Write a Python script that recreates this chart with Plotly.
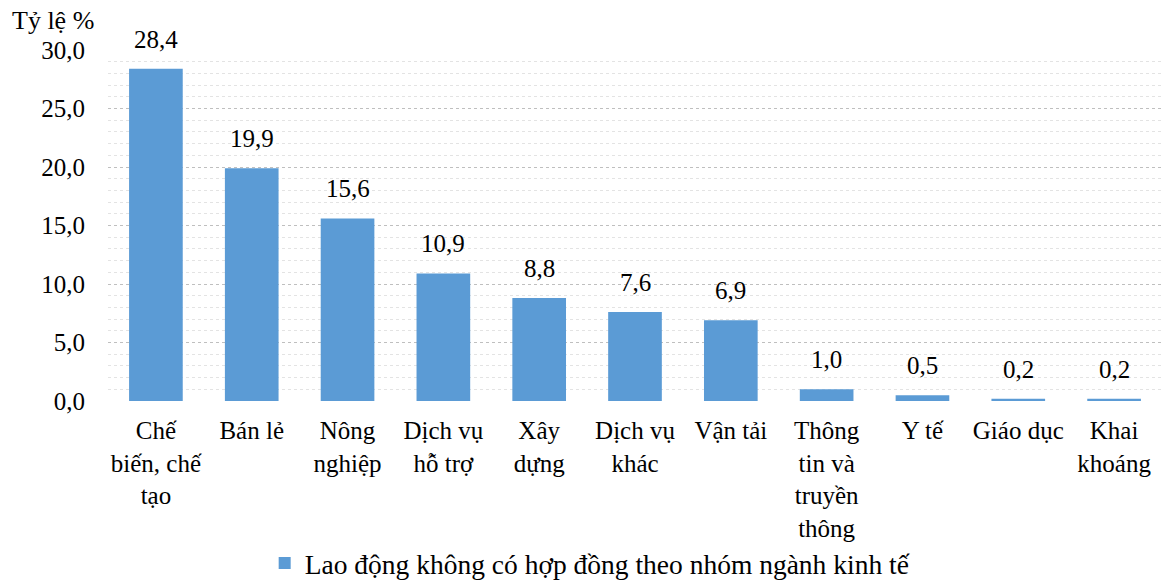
import plotly.graph_objects as go

categories = ["Chế biến, chế tạo", "Bán lẻ", "Nông nghiệp", "Dịch vụ hỗ trợ", "Xây dựng",
              "Dịch vụ khác", "Vận tải", "Thông tin và truyền thông", "Y tế", "Giáo dục", "Khai khoáng"]
tick_labels = ["Chế<br>biến, chế<br>tạo", "Bán lẻ", "Nông<br>nghiệp", "Dịch vụ<br>hỗ trợ", "Xây<br>dựng",
               "Dịch vụ<br>khác", "Vận tải", "Thông<br>tin và<br>truyền<br>thông", "Y tế", "Giáo dục", "Khai<br>khoáng"]
values = [28.4, 19.9, 15.6, 10.9, 8.8, 7.6, 6.9, 1.0, 0.5, 0.2, 0.2]
value_labels = ["28,4", "19,9", "15,6", "10,9", "8,8", "7,6", "6,9", "1,0", "0,5", "0,2", "0,2"]
series_name = "Lao động không có hợp đồng theo nhóm ngành kinh tế"
y_ticks = [0, 5, 10, 15, 20, 25, 30]

FONT = "Times New Roman, Liberation Serif, DejaVu Serif, serif"
FS = 25

fig = go.Figure()
fig.add_trace(go.Bar(
    x=categories, y=values, name=series_name,
    marker=dict(color="#5B9BD5", line=dict(width=0)),
    cliponaxis=False, showlegend=True,
))

annotations = [dict(x=c, y=v, text=t, xref="x", yref="y", showarrow=False,
                    xanchor="center", yanchor="bottom", yshift=14,
                    font=dict(family=FONT, size=FS, color="#000"))
               for c, v, t in zip(categories, values, value_labels)]
annotations.append(dict(text="Tỷ lệ %", xref="paper", yref="paper", x=-0.093, y=1.085,
                        xanchor="left", yanchor="middle", showarrow=False,
                        font=dict(family=FONT, size=26, color="#000")))

fig.update_layout(
    width=1162, height=580,
    margin=dict(l=108, r=0, t=50, b=179, autoexpand=False),
    paper_bgcolor="white", plot_bgcolor="white",
    font=dict(family=FONT, size=FS, color="#000"),
    separators=",.",
    bargap=0.44,
    showlegend=True,
    legend=dict(orientation="h", x=0.457, xanchor="center", y=0.029, yref="container",
                yanchor="middle", bgcolor="rgba(0,0,0,0)",
                font=dict(family=FONT, size=27.5, color="#000"), itemwidth=30),
    xaxis=dict(tickmode="array", tickvals=categories, ticktext=tick_labels,
               showgrid=False, showline=False, ticks="", ticklabelstandoff=12,
               automargin=False,
               tickfont=dict(family=FONT, size=25, color="#000")),
    yaxis=dict(range=[0, 30], tickmode="array", tickvals=y_ticks, tickformat=".1f",
               showgrid=True, gridcolor="#BFBFBF", griddash="dot", gridwidth=1,
               minor=dict(dtick=1, showgrid=True, gridcolor="#E3E3E3", gridwidth=1),
               zeroline=False, showline=False, ticks="", ticklabelstandoff=22,
               automargin=False,
               tickfont=dict(family=FONT, size=FS, color="#000")),
    annotations=annotations,
)

fig.write_html("out.html")
